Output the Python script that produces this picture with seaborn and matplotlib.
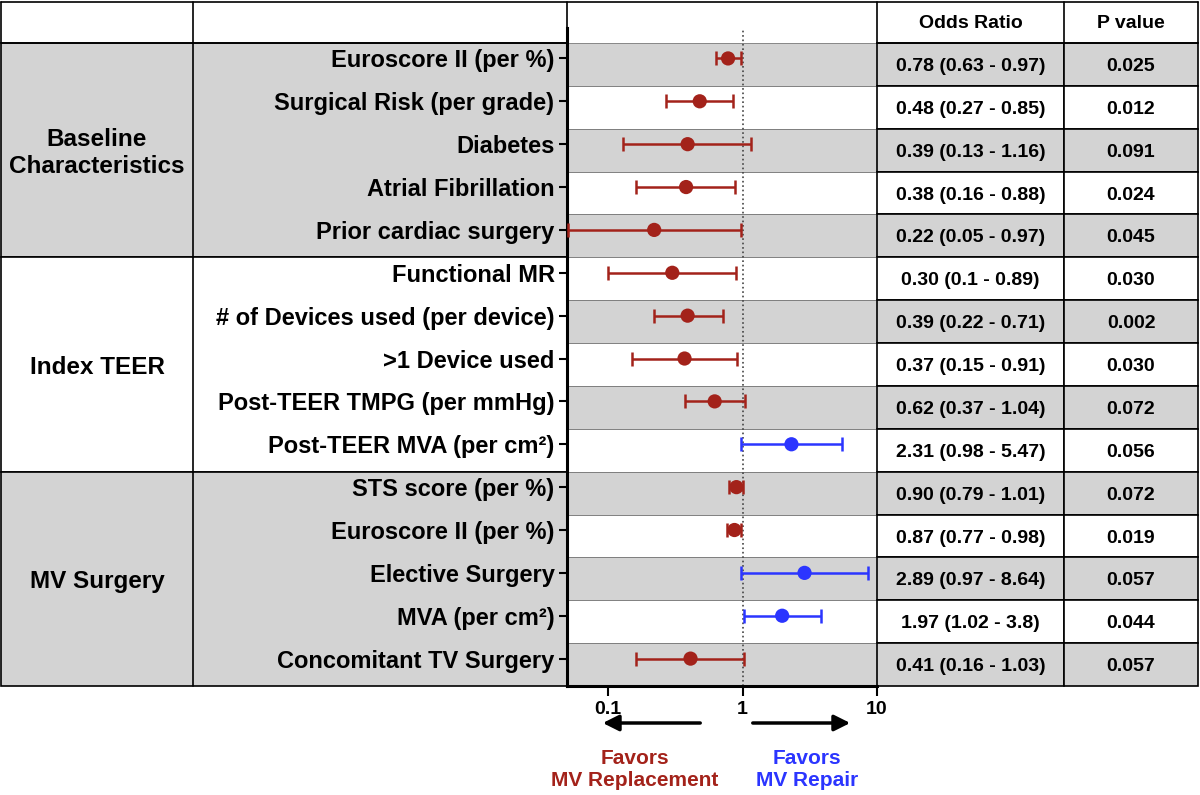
import matplotlib
matplotlib.use("Agg")
import matplotlib.pyplot as plt
import matplotlib.patches as mpatches
import numpy as np
import pandas as pd
import seaborn as sns

# ---- data ----
groups = ["Baseline\nCharacteristics", "Index TEER", "MV Surgery"]
group_sizes = [5, 5, 5]
labels = [
    "Euroscore II (per %)", "Surgical Risk (per grade)", "Diabetes",
    "Atrial Fibrillation", "Prior cardiac surgery",
    "Functional MR", "# of Devices used (per device)", ">1 Device used",
    "Post-TEER TMPG (per mmHg)", "Post-TEER MVA (per cm²)",
    "STS score (per %)", "Euroscore II (per %)", "Elective Surgery",
    "MVA (per cm²)", "Concomitant TV Surgery",
]
odds = [0.78, 0.48, 0.39, 0.38, 0.22, 0.30, 0.39, 0.37, 0.62, 2.31,
        0.90, 0.87, 2.89, 1.97, 0.41]
ci_low = [0.63, 0.27, 0.13, 0.16, 0.05, 0.1, 0.22, 0.15, 0.37, 0.98,
          0.79, 0.77, 0.97, 1.02, 0.16]
ci_high = [0.97, 0.85, 1.16, 0.88, 0.97, 0.89, 0.71, 0.91, 1.04, 5.47,
           1.01, 0.98, 8.64, 3.8, 1.03]
p_values = ["0.025", "0.012", "0.091", "0.024", "0.045", "0.030", "0.002",
            "0.030", "0.072", "0.056", "0.072", "0.019", "0.057", "0.044",
            "0.057"]

RED = "#a3221a"
BLUE = "#2b35ff"
GRAY = "#d3d3d3"

df = pd.DataFrame({"label": labels, "odds": odds, "lo": ci_low, "hi": ci_high})
df["row"] = np.arange(len(df))
df["side"] = np.where(df["odds"] > 1, "repair", "replacement")

sns.set_theme(style="white")
plt.rcParams["font.family"] = ["Liberation Sans", "DejaVu Sans"]
plt.rcParams["text.color"] = "black"
plt.rcParams["xtick.color"] = "black"
plt.rcParams["ytick.color"] = "black"
plt.rcParams["axes.labelcolor"] = "black"

fig = plt.figure(figsize=(12, 7.95), dpi=100)

# background table drawn in pixel coordinates
bg = fig.add_axes([0, 0, 1, 1])
bg.set_xlim(0, 1200)
bg.set_ylim(795, 0)
bg.axis("off")

col_x = [1, 193, 567, 877, 1064, 1198]
top, head_bot, row_h = 2, 43, 42.87
n = len(labels)
bottom = head_bot + n * row_h

# group + label column blocks
start = 0
for gi, (gname, size) in enumerate(zip(groups, group_sizes)):
    y0 = head_bot + start * row_h
    hgt = size * row_h
    fc = GRAY if gi % 2 == 0 else "white"
    bg.add_patch(mpatches.Rectangle((col_x[0], y0), col_x[2] - col_x[0], hgt,
                                    facecolor=fc, edgecolor="black", lw=1.2))
    bg.plot([col_x[1], col_x[1]], [y0, y0 + hgt], color="black", lw=1.2)
    bg.text((col_x[0] + col_x[1]) / 2, y0 + hgt / 2 + 3, gname, ha="center",
            va="center", fontsize=17.5, fontweight="bold", linespacing=1.2)
    start += size

# alternating row bands for plot, OR and P columns
for i in range(n):
    y0 = head_bot + i * row_h
    fc = GRAY if i % 2 == 0 else "white"
    bg.add_patch(mpatches.Rectangle((col_x[2], y0), col_x[3] - col_x[2], row_h,
                                    facecolor=fc, edgecolor="#777777", lw=0.6))
    for c in (3, 4):
        bg.add_patch(mpatches.Rectangle((col_x[c], y0), col_x[c + 1] - col_x[c], row_h,
                                        facecolor=fc, edgecolor="black", lw=1.2))
    or_txt = f"{odds[i]:.2f} ({ci_low[i]:g} - {ci_high[i]:g})"
    bg.text((col_x[3] + col_x[4]) / 2, y0 + row_h / 2 + 2, or_txt, ha="center",
            va="center", fontsize=14, fontweight="bold")
    bg.text((col_x[4] + col_x[5]) / 2, y0 + row_h / 2 + 2, p_values[i], ha="center",
            va="center", fontsize=14, fontweight="bold")

# header row
bg.plot([col_x[0], col_x[-1]], [top, top], color="black", lw=1.2)
bg.plot([col_x[0], col_x[2]], [head_bot, head_bot], color="black", lw=1.2)
bg.plot([col_x[3], col_x[-1]], [head_bot, head_bot], color="black", lw=1.2)
for x in col_x:
    bg.plot([x, x], [top, head_bot], color="black", lw=1.2)
bg.text((col_x[3] + col_x[4]) / 2, 24, "Odds Ratio", ha="center", va="center",
        fontsize=14, fontweight="bold")
bg.text((col_x[4] + col_x[5]) / 2, 24, "P value", ha="center", va="center",
        fontsize=14, fontweight="bold")

# ---- forest plot ----
ax_top = 28
ax = fig.add_axes([col_x[2] / 1200, (795 - bottom) / 795,
                   (col_x[3] - col_x[2]) / 1200, (bottom - ax_top) / 795])
ax.patch.set_alpha(0)

colors = {"replacement": RED, "repair": BLUE}
for side, sub in df.groupby("side"):
    ax.errorbar(sub["odds"], sub["row"],
                xerr=[sub["odds"] - sub["lo"], sub["hi"] - sub["odds"]],
                fmt="none", ecolor=colors[side], elinewidth=1.8,
                capsize=5, capthick=1.8, zorder=3)
sns.scatterplot(data=df, x="odds", y="row", hue="side", palette=colors,
                s=105, edgecolor="none", legend=False, zorder=4, ax=ax)
ax.axvline(1, color="#444444", ls=":", lw=1.2, zorder=2)

ax.set_xscale("log")
ax.set_xlim(0.0494, 10)
# data rows sit ~6px above the band centres
centre0 = head_bot + row_h / 2 - 6
ax.set_ylim((bottom - centre0) / row_h, (ax_top - centre0) / row_h)

ax.set_yticks(df["row"])
ax.set_yticklabels(labels, fontsize=17, fontweight="bold")
ax.set_xticks([0.1, 1, 10])
ax.set_xticklabels(["0.1", "1", "10"], fontsize=14, fontweight="bold")
ax.xaxis.set_minor_locator(matplotlib.ticker.NullLocator())
ax.tick_params(axis="y", direction="out", length=6, width=1.5, pad=3, left=True)
ax.tick_params(axis="x", direction="out", length=7, width=1.5, pad=4, bottom=True)
ax.set_xlabel("")
ax.set_ylabel("")
for side in ("top", "right"):
    ax.spines[side].set_visible(False)
for side in ("left", "bottom"):
    ax.spines[side].set_color("black")
    ax.spines[side].set_linewidth(2.2)

# direction arrows and captions
bg.annotate("", xy=(600, 723), xytext=(703, 723),
            arrowprops=dict(arrowstyle="-|>", lw=2.5, color="black", mutation_scale=24))
bg.annotate("", xy=(853, 723), xytext=(750, 723),
            arrowprops=dict(arrowstyle="-|>", lw=2.5, color="black", mutation_scale=24))
bg.text(635, 770, "Favors\nMV Replacement", ha="center", va="center",
        fontsize=15, fontweight="bold", color=RED, linespacing=1.2)
bg.text(807, 770, "Favors\nMV Repair", ha="center", va="center",
        fontsize=15, fontweight="bold", color=BLUE, linespacing=1.2)

fig.savefig("out.png", dpi=100)
